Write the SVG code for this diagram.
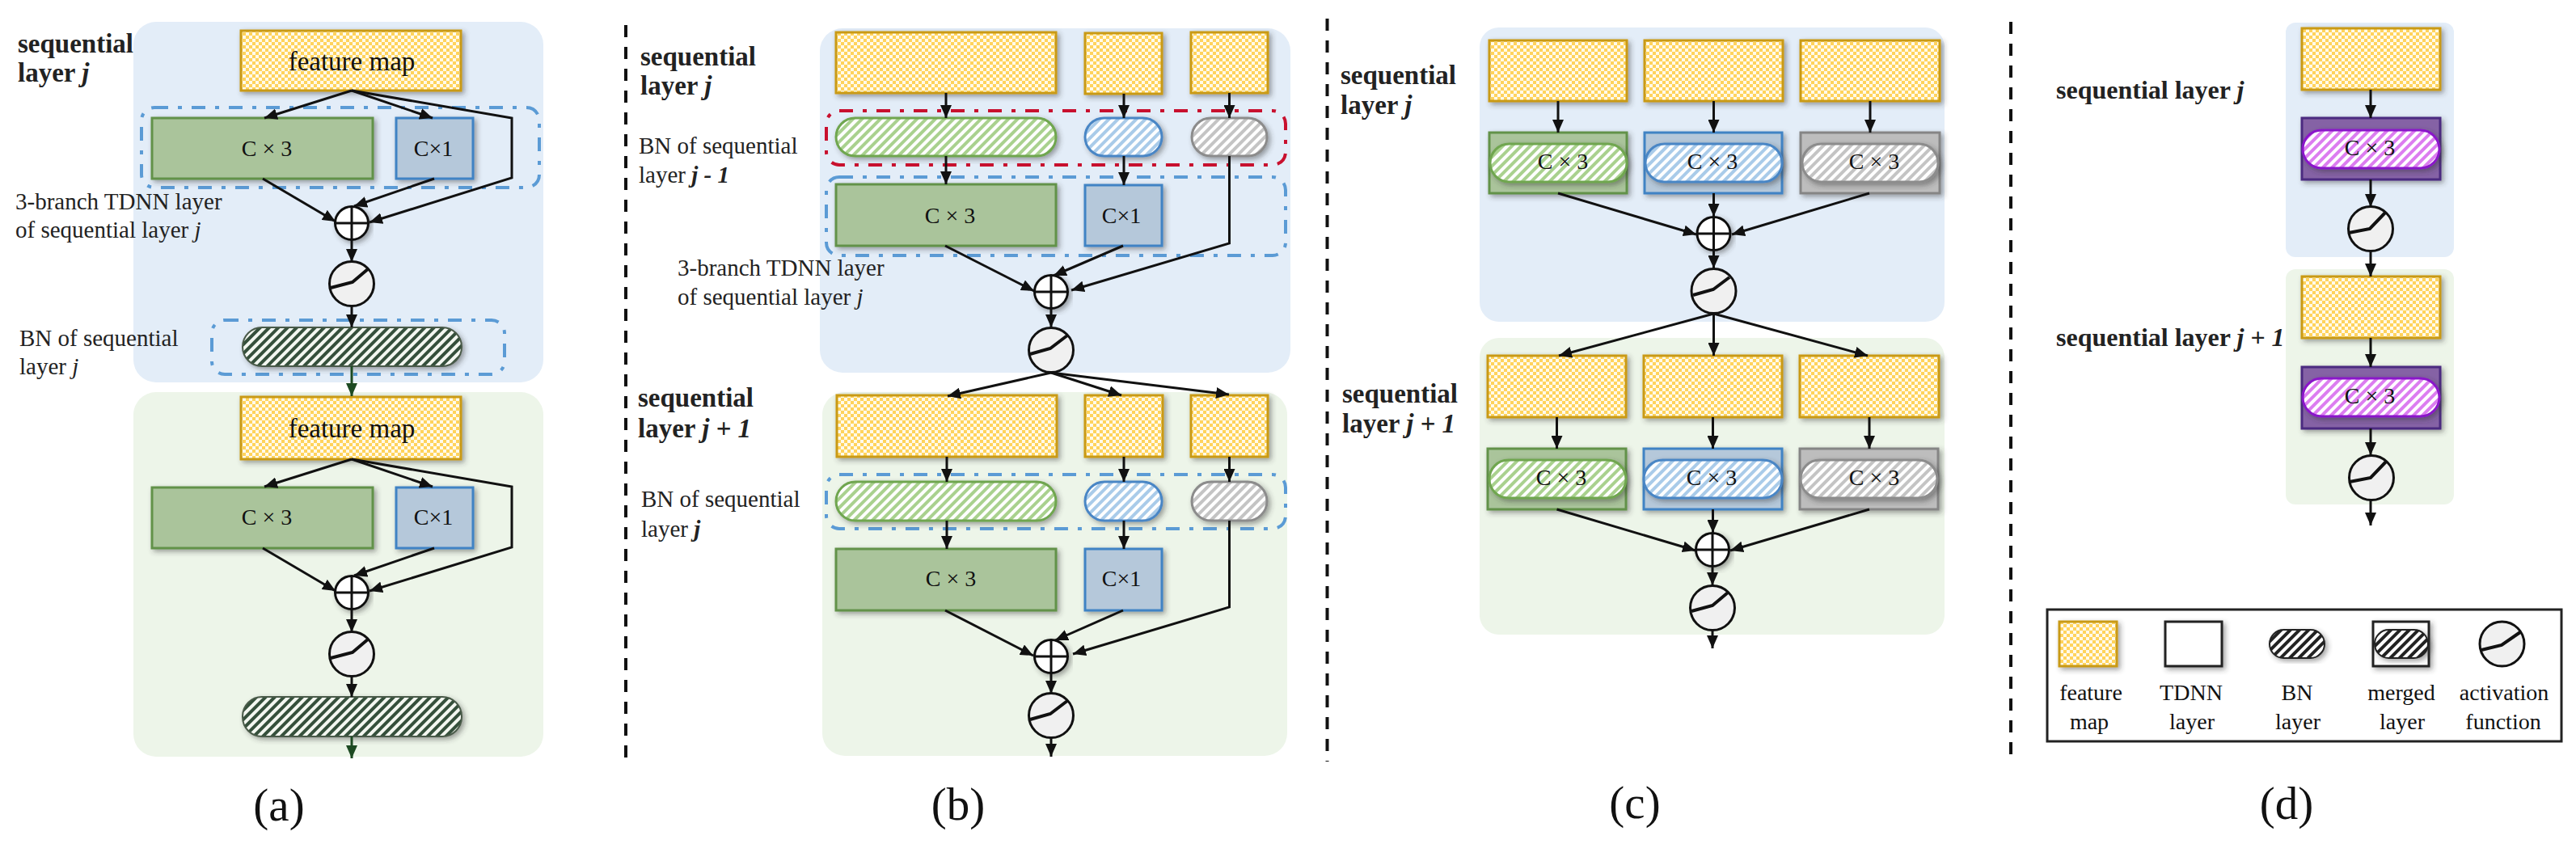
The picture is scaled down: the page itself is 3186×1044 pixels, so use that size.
<svg xmlns="http://www.w3.org/2000/svg" width="3186" height="1044" viewBox="0 0 3186 1044">
<style>
text{font-family:"Liberation Serif","Times New Roman",serif;fill:#111}
.h{font-size:33px;font-weight:700;fill:#222}
.hd{font-size:32px;font-weight:700;fill:#222}
.n{font-size:29px;fill:#222}
.b{font-size:29px;fill:#222}
.i{font-style:italic}
.bi{font-weight:700;font-style:italic}
.c{font-size:28px;text-anchor:middle}
.fmt{font-size:33px;text-anchor:middle}
.cap{font-size:57px;text-anchor:middle}
.lg{font-size:28px;text-anchor:middle}
.pb{fill:#e3edf8}
.pg{fill:#edf5e9}
.fm{fill:url(#chk);stroke:#c99a12;stroke-width:3;filter:url(#sh)}
.gb{fill:#aac49b;stroke:#62924a;stroke-width:3;filter:url(#sh)}
.bb{fill:#b5c8da;stroke:#3f83c4;stroke-width:3;filter:url(#sh)}
.yb{fill:#bdbdbd;stroke:#858585;stroke-width:3;filter:url(#sh)}
.vb{fill:#8562a5;stroke:#4b2a80;stroke-width:3;filter:url(#sh)}
.wb{fill:#fff;stroke:#222;stroke-width:3;filter:url(#sh)}
.pd{fill:url(#hd);stroke:#4a5a48;stroke-width:2;filter:url(#sh)}
.pk{fill:url(#hk);stroke:#222;stroke-width:2;filter:url(#sh)}
.pgr{fill:url(#hg);stroke:#6fa650;stroke-width:3;filter:url(#sh)}
.pbl{fill:url(#hb);stroke:#4a86c5;stroke-width:3;filter:url(#sh)}
.pgy{fill:url(#hy);stroke:#8c8c8c;stroke-width:3;filter:url(#sh)}
.pv{fill:url(#hv);stroke:#8a16c9;stroke-width:3;filter:url(#sh)}
.dbl{fill:none;stroke:#5b9bd5;stroke-width:4;stroke-dasharray:17 12 5 12}
.drd{fill:none;stroke:#c8102e;stroke-width:4;stroke-dasharray:17 12 5 12}
.sum{fill:#fff;stroke:#111;stroke-width:3;filter:url(#sh)}
.xl{fill:none;stroke:#111;stroke-width:3}
.act{fill:#f0f0f0;stroke:#111;stroke-width:3}
.cv{fill:none;stroke:#111;stroke-width:4}
.sep{stroke:#111;stroke-width:4;stroke-dasharray:15 12;fill:none}
.lgb{fill:#fff;stroke:#222;stroke-width:3}
#connectors path{fill:none;stroke:#111;stroke-width:3;marker-end:url(#ah)}
#connectors path.dk{stroke:#1d4a22;marker-end:url(#ahd)}
</style>
<defs>
<marker id="ah" markerUnits="userSpaceOnUse" markerWidth="16" markerHeight="14" refX="16" refY="7" orient="auto"><path d="M0 0L16 7L0 14z" fill="#111"/></marker>
<marker id="ahd" markerUnits="userSpaceOnUse" markerWidth="16" markerHeight="14" refX="16" refY="7" orient="auto"><path d="M0 0L16 7L0 14z" fill="#1d4a22"/></marker>
<filter id="sh" x="-10%" y="-15%" width="125%" height="135%"><feDropShadow dx="3" dy="3" stdDeviation="3" flood-color="#333" flood-opacity=".45"/></filter>
<pattern id="chk" width="8" height="8" patternUnits="userSpaceOnUse"><rect width="8" height="8" fill="#ffd35c"/><rect width="4" height="4" fill="#fffaea"/><rect x="4" y="4" width="4" height="4" fill="#fffaea"/></pattern>
<pattern id="hd" width="8" height="8" patternUnits="userSpaceOnUse" patternTransform="rotate(45)"><rect width="8" height="8" fill="#f4f7f1"/><rect width="4" height="8" fill="#34503a"/></pattern>
<pattern id="hk" width="8" height="8" patternUnits="userSpaceOnUse" patternTransform="rotate(45)"><rect width="8" height="8" fill="#fff"/><rect width="4" height="8" fill="#222"/></pattern>
<pattern id="hg" width="8" height="8" patternUnits="userSpaceOnUse" patternTransform="rotate(45)"><rect width="8" height="8" fill="#fff"/><rect width="4" height="8" fill="#a9d18e"/></pattern>
<pattern id="hb" width="8" height="8" patternUnits="userSpaceOnUse" patternTransform="rotate(45)"><rect width="8" height="8" fill="#fff"/><rect width="4" height="8" fill="#a9cbe9"/></pattern>
<pattern id="hy" width="8" height="8" patternUnits="userSpaceOnUse" patternTransform="rotate(45)"><rect width="8" height="8" fill="#fff"/><rect width="4" height="8" fill="#c4c4c4"/></pattern>
<pattern id="hv" width="8" height="8" patternUnits="userSpaceOnUse" patternTransform="rotate(45)"><rect width="8" height="8" fill="#fff"/><rect width="4" height="8" fill="#dc7df0"/></pattern>
</defs>
<rect width="3186" height="1044" fill="#fff"/>

<g id="panels">
<rect class="pb" x="165" y="27" width="507" height="446" rx="28"/>
<rect class="pg" x="165" y="485" width="507" height="451" rx="28"/>
<rect class="pb" x="1014" y="35" width="582" height="426" rx="28"/>
<rect class="pg" x="1017" y="485" width="575" height="450" rx="28"/>
<rect class="pb" x="1830" y="34" width="575" height="364" rx="24"/>
<rect class="pg" x="1830" y="418" width="575" height="367" rx="24"/>
<rect class="pb" x="2827" y="28" width="208" height="290" rx="12"/>
<rect class="pg" x="2827" y="333" width="208" height="291" rx="12"/>
</g>
<g id="separators">
<path class="sep" d="M774 31V938"/>
<path class="sep" d="M1641.500 23V942"/>
<path class="sep" d="M2487 27V940"/>
</g>

<g id="a-j-feature"><rect class="fm" x="298" y="38" width="272" height="74"/><text class="fmt" x="435" y="87">feature map</text></g>
<g id="a-j-tdnn-box"><rect class="dbl" x="175" y="133" width="492" height="99" rx="16"/></g>
<g id="a-j-c3"><rect class="gb" x="188" y="146" width="273" height="75"/><text class="c" x="330" y="193">C × 3</text></g>
<g id="a-j-c1"><rect class="bb" x="490" y="146" width="95" height="75"/><text class="c" x="536" y="193">C×1</text></g>
<g id="a-j-sum"><circle class="sum" cx="435" cy="276" r="20.500"/><path class="xl" d="M435 255.500V296.500M414.500 276H455.500"/></g>
<g id="a-j-act"><circle class="act" cx="435" cy="351" r="27.500"/><path class="cv" d="M409 356L436 349L456 332"/></g>
<g id="a-j-bn-box"><rect class="dbl" x="262" y="396" width="362" height="67" rx="16"/></g>
<g id="a-j-bn"><rect class="pd" x="300" y="405" width="271" height="48" rx="24"/></g>
<g id="a-j1-feature"><rect class="fm" x="298" y="491" width="272" height="77"/><text class="fmt" x="435" y="541">feature map</text></g>
<g id="a-j1-c3"><rect class="gb" x="188" y="603" width="273" height="75"/><text class="c" x="330" y="649">C × 3</text></g>
<g id="a-j1-c1"><rect class="bb" x="490" y="603" width="95" height="75"/><text class="c" x="536" y="649">C×1</text></g>
<g id="a-j1-sum"><circle class="sum" cx="435" cy="733" r="20.500"/><path class="xl" d="M435 712.500V753.500M414.500 733H455.500"/></g>
<g id="a-j1-act"><circle class="act" cx="435" cy="809" r="27.500"/><path class="cv" d="M409 814L436 807L456 790"/></g>
<g id="a-j1-bn"><rect class="pd" x="300" y="862" width="271" height="49" rx="24"/></g>

<g id="b-j-f1"><rect class="fm" x="1034" y="40" width="272" height="75"/></g>
<g id="b-j-f2"><rect class="fm" x="1342" y="41" width="95" height="75"/></g>
<g id="b-j-f3"><rect class="fm" x="1473" y="40" width="95" height="75"/></g>
<g id="b-j-bn-box"><rect class="drd" x="1022" y="137" width="568" height="67" rx="16"/></g>
<g id="b-j-p1"><rect class="pgr" x="1034" y="146" width="272" height="47" rx="23.500"/></g>
<g id="b-j-p2"><rect class="pbl" x="1342" y="146" width="95" height="47" rx="23.500"/></g>
<g id="b-j-p3"><rect class="pgy" x="1474" y="146" width="93" height="47" rx="23.500"/></g>
<g id="b-j-tdnn-box"><rect class="dbl" x="1022" y="219" width="568" height="97" rx="16"/></g>
<g id="b-j-c3"><rect class="gb" x="1034" y="228" width="272" height="76"/><text class="c" x="1175" y="276">C × 3</text></g>
<g id="b-j-c1"><rect class="bb" x="1342" y="229" width="95" height="75"/><text class="c" x="1387" y="276">C×1</text></g>
<g id="b-j-sum"><circle class="sum" cx="1300" cy="361" r="20.500"/><path class="xl" d="M1300 340.500V381.500M1279.500 361H1320.500"/></g>
<g id="b-j-act"><circle class="act" cx="1300" cy="433" r="27.500"/><path class="cv" d="M1274 438L1299 431L1320 415"/></g>
<g id="b-j1-f1"><rect class="fm" x="1035" y="489" width="272" height="76"/></g>
<g id="b-j1-f2"><rect class="fm" x="1342" y="489" width="96" height="76"/></g>
<g id="b-j1-f3"><rect class="fm" x="1473" y="489" width="95" height="76"/></g>
<g id="b-j1-bn-box"><rect class="dbl" x="1022" y="587" width="568" height="67" rx="16"/></g>
<g id="b-j1-p1"><rect class="pgr" x="1034" y="596" width="272" height="48" rx="24"/></g>
<g id="b-j1-p2"><rect class="pbl" x="1342" y="596" width="95" height="48" rx="24"/></g>
<g id="b-j1-p3"><rect class="pgy" x="1474" y="596" width="93" height="48" rx="24"/></g>
<g id="b-j1-c3"><rect class="gb" x="1034" y="679" width="272" height="76"/><text class="c" x="1176" y="725">C × 3</text></g>
<g id="b-j1-c1"><rect class="bb" x="1342" y="679" width="95" height="76"/><text class="c" x="1387" y="725">C×1</text></g>
<g id="b-j1-sum"><circle class="sum" cx="1300" cy="812" r="20.500"/><path class="xl" d="M1300 791.500V832.500M1279.500 812H1320.500"/></g>
<g id="b-j1-act"><circle class="act" cx="1300" cy="885" r="27.500"/><path class="cv" d="M1274 890L1299 883L1320 867"/></g>

<g id="c-j-f1"><rect class="fm" x="1842" y="50" width="170" height="75"/></g>
<g id="c-j-f2"><rect class="fm" x="2034" y="50" width="171" height="75"/></g>
<g id="c-j-f3"><rect class="fm" x="2227" y="50" width="172" height="75"/></g>
<g id="c-j-m1"><rect class="gb" x="1842" y="164" width="170" height="75"/><rect class="pgr" x="1843" y="178" width="169" height="47" rx="23.500"/><text class="c" x="1933" y="209">C × 3</text></g>
<g id="c-j-m2"><rect class="bb" x="2034" y="164" width="170" height="75"/><rect class="pbl" x="2035" y="178" width="169" height="47" rx="23.500"/><text class="c" x="2118" y="209">C × 3</text></g>
<g id="c-j-m3"><rect class="yb" x="2227" y="164" width="172" height="75"/><rect class="pgy" x="2229" y="178" width="168" height="47" rx="23.500"/><text class="c" x="2318" y="209">C × 3</text></g>
<g id="c-j-sum"><circle class="sum" cx="2119.500" cy="289" r="20.500"/><path class="xl" d="M2119.500 268.500V309.500M2099 289H2140"/></g>
<g id="c-j-act"><circle class="act" cx="2119.500" cy="360" r="27.500"/><path class="cv" d="M2094 365L2119 358L2139 343"/></g>
<g id="c-j1-f1"><rect class="fm" x="1840" y="440" width="171" height="76"/></g>
<g id="c-j1-f2"><rect class="fm" x="2033" y="440" width="171" height="76"/></g>
<g id="c-j1-f3"><rect class="fm" x="2226" y="440" width="172" height="76"/></g>
<g id="c-j1-m1"><rect class="gb" x="1840" y="555" width="171" height="75"/><rect class="pgr" x="1842" y="569" width="169" height="47" rx="23.500"/><text class="c" x="1931" y="600">C × 3</text></g>
<g id="c-j1-m2"><rect class="bb" x="2033" y="555" width="171" height="75"/><rect class="pbl" x="2033" y="569" width="171" height="47" rx="23.500"/><text class="c" x="2117" y="600">C × 3</text></g>
<g id="c-j1-m3"><rect class="yb" x="2226" y="555" width="171" height="75"/><rect class="pgy" x="2227" y="569" width="169" height="47" rx="23.500"/><text class="c" x="2318" y="600">C × 3</text></g>
<g id="c-j1-sum"><circle class="sum" cx="2118" cy="680" r="20.500"/><path class="xl" d="M2118 659.500V700.500M2097.500 680H2138.500"/></g>
<g id="c-j1-act"><circle class="act" cx="2118" cy="752" r="27.500"/><path class="cv" d="M2092 756L2118 749L2137 733"/></g>

<g id="d-j-f"><rect class="fm" x="2847" y="35" width="171" height="76"/></g>
<g id="d-j-m"><rect class="vb" x="2847" y="146" width="171" height="76"/><rect class="pv" x="2848" y="161" width="169" height="47" rx="23.500"/><text class="c" x="2931" y="192">C × 3</text></g>
<g id="d-j-act"><circle class="act" cx="2932" cy="283" r="27.500"/><path class="cv" d="M2905 288L2931 283L2951 262"/></g>
<g id="d-j1-f"><rect class="fm" x="2847" y="342" width="171" height="76"/></g>
<g id="d-j1-m"><rect class="vb" x="2847" y="454" width="171" height="76"/><rect class="pv" x="2848" y="468" width="169" height="47" rx="23.500"/><text class="c" x="2931" y="499">C × 3</text></g>
<g id="d-j1-act"><circle class="act" cx="2933" cy="591" r="27.500"/><path class="cv" d="M2906 596L2932 591L2952 570"/></g>

<g id="connectors">
<path d="M435 112L327 146"/><path d="M435 112L535 146"/><path d="M435 112L633 146V220L457 275"/>
<path d="M325 221L415 274"/><path d="M537 221L438 255"/><path d="M435 296V324"/><path d="M435 379V405"/>
<path class="dk" d="M435 453V490"/>
<path d="M435 568L327 602"/><path d="M435 568L535 602"/><path d="M435 568L633 602V677L457 731"/>
<path d="M325 678L415 731"/><path d="M537 678L438 712"/><path d="M435 754V782"/><path d="M435 836V862"/>
<path class="dk" d="M435 911V938"/>

<path d="M1170 115V146"/><path d="M1390 116V146"/><path d="M1520.500 115V146"/>
<path d="M1170 193V228"/><path d="M1390 193V229"/>
<path d="M1520.500 193V301L1325 359"/><path d="M1169 304L1279 360"/><path d="M1389 304L1303 341"/>
<path d="M1300 381V405"/>
<path d="M1300 461L1172 490"/><path d="M1300 461L1387 489"/><path d="M1300 461L1520 488"/>
<path d="M1171 565V596"/><path d="M1390 565V596"/><path d="M1520.500 565V596"/>
<path d="M1171 644V679"/><path d="M1390 644V679"/>
<path d="M1520.500 644V751L1327 809"/><path d="M1169 755L1278 811"/><path d="M1389 755L1305 792"/>
<path d="M1300 833V858"/><path d="M1300 913V936"/>

<path d="M1927 125V164"/><path d="M2119.500 125V164"/><path d="M2313 125V164"/>
<path d="M1927 239L2098 290"/><path d="M2119.500 239V268"/><path d="M2312 239L2142 290"/>
<path d="M2119.500 309V332"/>
<path d="M2119.500 388L1928 440"/><path d="M2119.500 388V440"/><path d="M2119.500 388L2310 440"/>
<path d="M1925.500 516V555"/><path d="M2118.500 516V555"/><path d="M2312 516V555"/>
<path d="M1925.500 630L2097 681"/><path d="M2118.500 630V659"/><path d="M2312 630L2140 681"/>
<path d="M2118 702V724"/><path d="M2118 780V802"/>

<path d="M2932 111V146"/><path d="M2932 222V256"/><path d="M2932 311V342"/>
<path d="M2932 418V454"/><path d="M2932 530V563"/><path d="M2932 618V650"/>
</g>

<g id="labels">
<text class="h" x="22" y="65">sequential</text>
<text class="h" x="22" y="101">layer <tspan class="i">j</tspan></text>
<text class="n" x="19" y="259">3-branch TDNN layer</text>
<text class="n" x="19" y="294">of sequential layer <tspan class="i">j</tspan></text>
<text class="b" x="24" y="428">BN of sequential</text>
<text class="b" x="24" y="463">layer <tspan class="i">j</tspan></text>
<text class="cap" x="345" y="1015">(a)</text>

<text class="h" x="792" y="81">sequential</text>
<text class="h" x="792" y="117">layer <tspan class="i">j</tspan></text>
<text class="b" x="790" y="190">BN of sequential</text>
<text class="b" x="790" y="226">layer <tspan class="bi">j - 1</tspan></text>
<text class="n" x="838" y="341">3-branch TDNN layer</text>
<text class="n" x="838" y="377">of sequential layer <tspan class="i">j</tspan></text>
<text class="h" x="789" y="503">sequential</text>
<text class="h" x="789" y="541">layer <tspan class="i">j + 1</tspan></text>
<text class="b" x="793" y="627">BN of sequential</text>
<text class="b" x="793" y="664">layer <tspan class="bi">j</tspan></text>
<text class="cap" x="1185" y="1014">(b)</text>

<text class="h" x="1658" y="104">sequential</text>
<text class="h" x="1658" y="141">layer <tspan class="i">j</tspan></text>
<text class="h" x="1660" y="498">sequential</text>
<text class="h" x="1660" y="535">layer <tspan class="i">j + 1</tspan></text>
<text class="cap" x="2022" y="1012">(c)</text>

<text class="hd" x="2543" y="122">sequential layer <tspan class="i">j</tspan></text>
<text class="hd" x="2543" y="428">sequential layer <tspan class="i">j + 1</tspan></text>
<text class="cap" x="2828" y="1013">(d)</text>
</g>

<g id="legend">
<rect class="lgb" x="2532" y="754" width="636" height="163"/>
<g id="lg-feature"><rect class="fm" x="2547" y="769" width="71" height="55"/><text class="lg" x="2586" y="866">feature</text><text class="lg" x="2584" y="902">map</text></g>
<g id="lg-tdnn"><rect class="wb" x="2678" y="769" width="70" height="55"/><text class="lg" x="2710" y="866">TDNN</text><text class="lg" x="2711" y="902">layer</text></g>
<g id="lg-bn"><rect class="pk" x="2807" y="779" width="68" height="35" rx="17.500"/><text class="lg" x="2841" y="866">BN</text><text class="lg" x="2842" y="902">layer</text></g>
<g id="lg-merged"><rect class="wb" x="2935" y="769" width="69" height="55"/><rect class="pk" x="2937" y="779" width="66" height="35" rx="17.500"/><text class="lg" x="2970" y="866">merged</text><text class="lg" x="2971" y="902">layer</text></g>
<g id="lg-act"><circle class="act" cx="3094.500" cy="796.500" r="27.500"/><path class="cv" d="M3069 804L3094 798L3117 782"/><text class="lg" x="3097" y="866">activation</text><text class="lg" x="3096" y="902">function</text></g>
</g>
</svg>
